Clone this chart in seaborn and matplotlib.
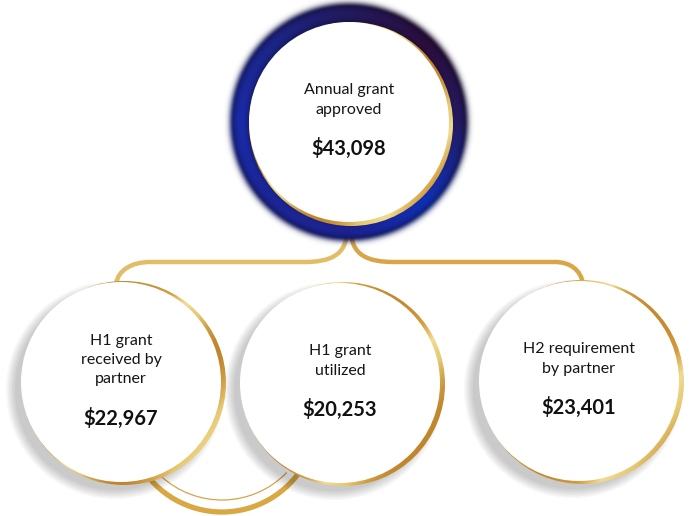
import numpy as np
import matplotlib
matplotlib.use("Agg")
import matplotlib.pyplot as plt
import seaborn as sns
from matplotlib.patches import Circle, Arc, PathPatch
from matplotlib.path import Path

# data
labels = ["Annual grant\napproved", "H1 grant\nreceived by\npartner",
          "H1 grant\nutilized", "H2 requirement\nby partner"]
values = [43098, 22967, 20253, 23401]

# layout (pixel coords)
W, H = 695, 516
centers = [(349, 122), (121, 382), (340, 383), (579, 381)]
R = 100

sns.set_theme(style="white")
plt.rcParams['font.family'] = ['Lato', 'DejaVu Sans']

fig = plt.figure(figsize=(W / 100, H / 100), dpi=100)
ax = fig.add_axes([0, 0, 1, 1])
ax.set_xlim(0, W)
ax.set_ylim(H, 0)
ax.axis("off")

yy, xx = np.mgrid[0:H, 0:W] + 0.5

# gold gradient, clipped into each gold shape
gold_cmap = sns.blend_palette(["#c0862c", "#e6c872", "#f0dc90", "#d39c3e", "#c48a30"], as_cmap=True)
t = 0.5 + 0.5 * np.sin((xx * 0.8 + yy * 0.6) / 35.0)
gold_img = gold_cmap(t)

def gold_fill(patch, z):
    patch.set_transform(ax.transData)
    im = ax.imshow(gold_img, extent=(0, W, H, 0), origin="upper", zorder=z, interpolation="bilinear")
    im.set_clip_path(patch)

# connectors
cx0, cy0 = centers[0]
left_path = Path([(cx0 - 2, 230), (cx0 - 2, 256), (cx0 - 20, 262), (cx0 - 45, 262),
                  (150, 262), (132, 262), (118, 270), (116, 284)],
                 [Path.MOVETO, Path.CURVE4, Path.CURVE4, Path.CURVE4,
                  Path.LINETO, Path.CURVE4, Path.CURVE4, Path.CURVE4])
right_path = Path([(cx0 + 2, 230), (cx0 + 2, 256), (cx0 + 20, 262), (cx0 + 45, 262),
                   (555, 262), (570, 262), (581, 270), (583, 284)],
                  [Path.MOVETO, Path.CURVE4, Path.CURVE4, Path.CURVE4,
                   Path.LINETO, Path.CURVE4, Path.CURVE4, Path.CURVE4])
ax.add_patch(PathPatch(left_path, fc="none", ec="#e0bd66", lw=3.2, zorder=1, capstyle="round"))
ax.add_patch(PathPatch(right_path, fc="none", ec="#d8a648", lw=3.2, zorder=1, capstyle="round"))

# bottom arcs between first two lower circles
ax.add_patch(Arc((222, 417), 190, 190, theta1=30, theta2=150, ec="#d9a743", lw=3.8, zorder=1))
ax.add_patch(Arc((222, 410), 180, 180, theta1=44, theta2=133, ec="#d6a44a", lw=0.9, zorder=1))

# top circle: dark ring with glow
d = np.hypot(xx - cx0, yy - cy0)
ang = np.degrees(np.arctan2(yy - cy0, xx - cx0))
keys = np.array([-180, -135, -90, -45, 0, 45, 90, 135, 180])
cols = np.array([matplotlib.colors.to_rgb(c) for c in
                 ["#1a2ba8", "#1c2588", "#221a5e", "#2a0e3a", "#241a62",
                  "#0f30b6", "#1d2290", "#1b2696", "#1a2ba8"]])
rgb = np.stack([np.interp(ang, keys, cols[:, k]) for k in range(3)], axis=-1)
band = np.clip(1 - ((d - 108) / 9.0) ** 2 * 0.35, 0.6, 1)
rgb = rgb * band[..., None]
alpha = np.where(d <= 115, 1.0, np.exp(-((d - 115) / 5.0) ** 2))
alpha = np.where(d < 95, 0, alpha)
ring = np.dstack([rgb, alpha])
ax.imshow(ring, extent=(0, W, H, 0), origin="upper", zorder=2, interpolation="bilinear")
gold_fill(Circle((cx0 + 2, cy0 + 2), R + 2), 3)
ax.add_patch(Circle((cx0, cy0), R, fc="white", ec="none", zorder=4))

# lower circles: soft shadow to lower left, gold rim, white face
for cx, cy in centers[1:]:
    for k in range(7):
        ax.add_patch(Circle((cx - 6, cy + 8), R + k * 1.5, fc="#000000", ec="none",
                            alpha=0.03, zorder=2))
    gold_fill(Circle((cx + 3, cy + 1), R + 2), 3)
    ax.add_patch(Circle((cx, cy), R, fc="white", ec="none", zorder=4))

# texts
pitch = 19.5
for (cx, cy), lab, val in zip(centers, labels, values):
    lines = lab.split("\n")
    n = len(lines)
    y0 = cy - 22 - (n - 1) * pitch / 2
    for i, ln in enumerate(lines):
        ax.text(cx, y0 + i * pitch, ln, ha="center", va="center", fontsize=11.5,
                color="#151515", zorder=5)
    ax.text(cx, y0 + (n - 1) * pitch + 39, f"${val:,}", ha="center", va="center",
            fontsize=14.5, fontweight="bold", color="#111111", zorder=5)

fig.savefig("out.png", dpi=100)
